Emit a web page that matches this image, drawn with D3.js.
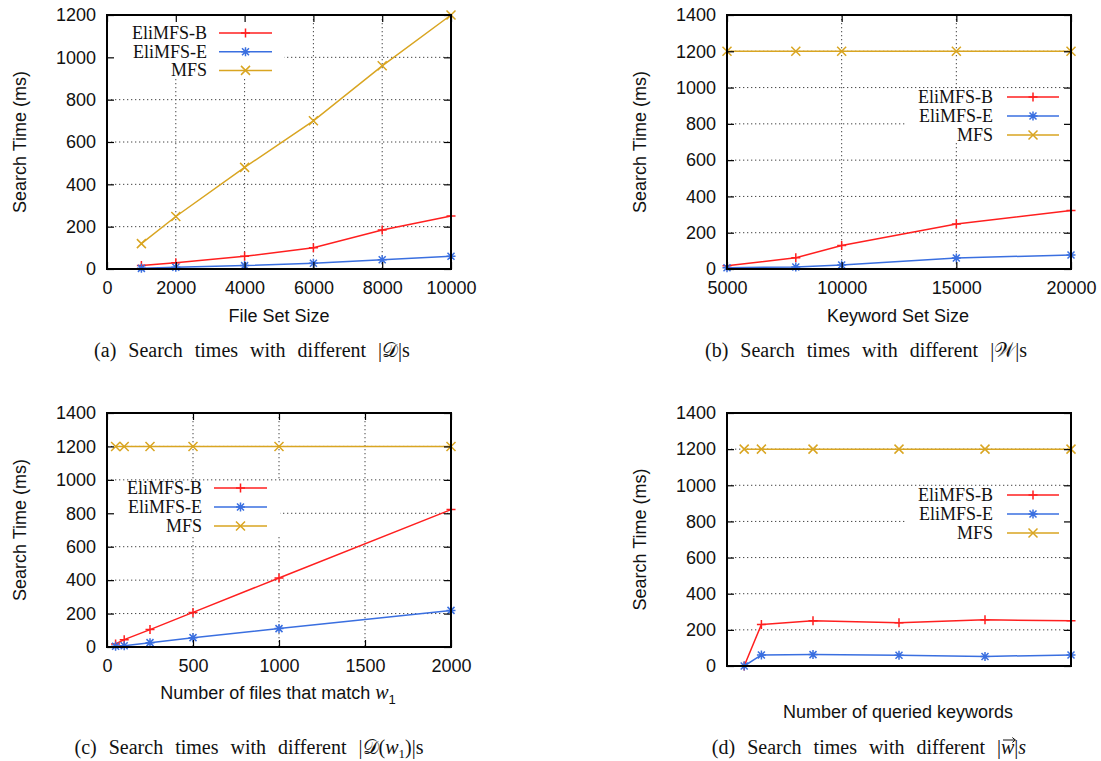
<!DOCTYPE html>
<html>
<head>
<meta charset="utf-8">
<script src="https://cdn.jsdelivr.net/npm/d3@7/dist/d3.min.js"></script>
<style>
  body { margin: 0; background: #fff; }
  svg { display: block; }
  .tick text { font-family: "Liberation Sans", Arial, sans-serif; font-size: 18px; fill: #111; }
</style>
</head>
<body>
<svg id="chart"></svg>
<script>
var screen = {width: 1101, height: 761};

// series names and colours, shared by all four panels
var seriesNames = ["EliMFS-B", "EliMFS-E", "MFS"];
var seriesColors = ["#ff1f1f", "#3a6fe0", "#d9a521"];

// (a) varying file set size
var fileSetSizes = [1000, 2000, 4000, 6000, 8000, 10000];
var aEliB = [16, 30, 60, 100, 184, 250];
var aEliE = [3, 8, 16, 27, 44, 60];
var aMFS = [120, 248, 480, 700, 960, 1200];

// (b) varying keyword set size
var keywordSetSizes = [5000, 8000, 10000, 15000, 20000];
var bEliB = [18, 62, 129, 248, 322];
var bEliE = [7, 11, 22, 61, 77];
var bMFS = [1200, 1200, 1200, 1200, 1200];

// (c) varying number of files that match w1
var matchingFiles = [50, 100, 250, 500, 1000, 2000];
var cEliB = [18, 44, 104, 207, 413, 822];
var cEliE = [4, 8, 26, 56, 110, 219];
var cMFS = [1200, 1200, 1200, 1200, 1200, 1200];

// (d) varying number of queried keywords (no tick labels in the original)
var queriedKeywords = [1, 2, 5, 10, 15, 20];
var dEliB = [0, 230, 250, 239, 256, 250];
var dEliE = [0, 61, 63, 59, 53, 61];
var dMFS = [1200, 1200, 1200, 1200, 1200, 1200];

// tick values
var aXTicks = [0, 2000, 4000, 6000, 8000, 10000];
var bXTicks = [5000, 10000, 15000, 20000];
var cXTicks = [0, 500, 1000, 1500, 2000];
var yTicks1200 = [0, 200, 400, 600, 800, 1000, 1200];
var yTicks1400 = [0, 200, 400, 600, 800, 1000, 1200, 1400];

var svg = d3.select("#chart")
    .attr("width", screen.width)
    .attr("height", screen.height);

var markers = {
    "EliMFS-B": "M-4.5,0H4.5M0,-4.5V4.5",
    "EliMFS-E": "M-4.5,0H4.5M0,-4.5V4.5M-3.5,-3.5L3.5,3.5M-3.5,3.5L3.5,-3.5",
    "MFS": "M-4.5,-4.5L4.5,4.5M-4.5,4.5L4.5,-4.5"
};

// writes text pieces as tspans, an arrow is drawn over pieces flagged with arrow
var writeParts = function(g, textSel, parts)
{
    var idx = 0;
    var arrows = [];
    parts.forEach(function(part)
    {
        var t = textSel.append("tspan").text(part.t);
        if (part.style) t.attr("style", part.style);
        if (part.dy) t.attr("dy", part.dy);
        if (part.arrow) arrows.push(idx);
        idx += part.t.length;
    });
    arrows.forEach(function(i)
    {
        var n = textSel.node();
        var s = n.getStartPositionOfChar(i);
        var e = n.getEndPositionOfChar(i);
        var x0 = s.x + 2, x1 = e.x + 1, yy = s.y - 14;
        g.append("path")
            .attr("d", "M" + x0 + "," + yy + "H" + x1 + "M" + (x1 - 3) + "," + (yy - 2.5) + "L" + x1 + "," + yy + "L" + (x1 - 3) + "," + (yy + 2.5))
            .attr("fill", "none")
            .attr("stroke", "#111")
            .attr("stroke-width", 1);
    });
}

var drawPanel = function(p)
{
    var g = svg.append("g");

    var xScale = d3.scaleLinear().domain(p.xDomain).range([p.left, p.right]);
    var yScale = d3.scaleLinear().domain([0, p.yTicks[p.yTicks.length - 1]]).range([p.bottom, p.top]);

    // dotted grid, inner lines only
    var grid = g.append("g")
        .attr("stroke", "#444")
        .attr("stroke-width", 1)
        .attr("stroke-dasharray", "1.3,2.7");

    grid.selectAll(".hg")
        .data(p.yTicks.slice(1, -1))
        .enter()
        .append("line")
        .attr("x1", p.left).attr("x2", p.right)
        .attr("y1", function(d) { return yScale(d); })
        .attr("y2", function(d) { return yScale(d); });

    if (p.xTicks) {
        grid.selectAll(".vg")
            .data(p.xTicks.filter(function(d) { return d > p.xDomain[0] && d < p.xDomain[1]; }))
            .enter()
            .append("line")
            .attr("y1", p.top).attr("y2", p.bottom)
            .attr("x1", function(d) { return xScale(d); })
            .attr("x2", function(d) { return xScale(d); });
    }

    // opaque legend box hides the grid behind it
    g.append("rect")
        .attr("x", p.legend.box[0]).attr("y", p.legend.box[1])
        .attr("width", p.legend.box[2]).attr("height", p.legend.box[3])
        .attr("fill", "#fff");

    // series
    p.series.forEach(function(vals, i)
    {
        var pts = p.xs.map(function(xv, j) { return [xScale(xv), yScale(vals[j])]; });
        g.append("path")
            .attr("d", d3.line()(pts))
            .attr("fill", "none")
            .attr("stroke", seriesColors[i])
            .attr("stroke-width", 1.5);
        g.selectAll(".m" + i)
            .data(pts)
            .enter()
            .append("path")
            .attr("transform", function(d) { return "translate(" + d[0] + "," + d[1] + ")"; })
            .attr("d", markers[seriesNames[i]])
            .attr("fill", "none")
            .attr("stroke", seriesColors[i])
            .attr("stroke-width", 1.5);
    });

    // border
    g.append("rect")
        .attr("x", p.left).attr("y", p.top)
        .attr("width", p.right - p.left).attr("height", p.bottom - p.top)
        .attr("fill", "none")
        .attr("stroke", "#000")
        .attr("stroke-width", 2);

    // axes with inward ticks, mirrored on the other side
    g.append("g")
        .attr("transform", "translate(" + p.left + ",0)")
        .call(d3.axisLeft(yScale).tickValues(p.yTicks).tickSize(-7).tickPadding(11).tickFormat(d3.format("d")));
    g.append("g")
        .attr("transform", "translate(" + p.right + ",0)")
        .call(d3.axisRight(yScale).tickValues(p.yTicks).tickSize(-7).tickFormat(""));

    if (p.xTicks) {
        g.append("g")
            .attr("transform", "translate(0," + p.bottom + ")")
            .call(d3.axisBottom(xScale).tickValues(p.xTicks).tickSize(-7).tickPadding(12).tickFormat(d3.format("d")));
        g.append("g")
            .attr("transform", "translate(0," + p.top + ")")
            .call(d3.axisTop(xScale).tickValues(p.xTicks).tickSize(-7).tickFormat(""));
    }
    g.selectAll(".domain").remove();
    g.selectAll(".tick line").attr("stroke", "#000").attr("stroke-width", 1.2);

    // axis titles
    g.append("text")
        .attr("transform", "translate(" + p.yLabelX + "," + ((p.top + p.bottom) / 2) + ") rotate(-90)")
        .attr("text-anchor", "middle")
        .attr("dy", "0.35em")
        .style("font-family", "'Liberation Sans', Arial, sans-serif")
        .style("font-size", "18px")
        .attr("fill", "#111")
        .text("Search Time (ms)");

    var xl = g.append("text")
        .attr("x", p.xLabel.x)
        .attr("y", p.xLabel.y)
        .attr("text-anchor", "middle")
        .style("font-family", "'Liberation Sans', Arial, sans-serif")
        .style("font-size", "18px")
        .attr("fill", "#111");
    writeParts(g, xl, p.xLabel.parts);

    // legend
    var lg = g.selectAll(".legend")
        .data(seriesNames)
        .enter()
        .append("g")
        .attr("transform", function(d, i) { return "translate(0," + (p.legend.y0 + i * p.legend.dy) + ")"; });
    lg.append("text")
        .attr("x", p.legend.textRight)
        .attr("dy", "0.33em")
        .attr("text-anchor", "end")
        .style("font-family", "'Liberation Serif', 'Times New Roman', serif")
        .style("font-size", "18px")
        .attr("fill", "#111")
        .text(function(d) { return d; });
    lg.append("line")
        .attr("x1", p.legend.line[0]).attr("x2", p.legend.line[1])
        .attr("stroke", function(d, i) { return seriesColors[i]; })
        .attr("stroke-width", 1.5);
    lg.append("path")
        .attr("transform", "translate(" + ((p.legend.line[0] + p.legend.line[1]) / 2) + ",0)")
        .attr("d", function(d) { return markers[d]; })
        .attr("fill", "none")
        .attr("stroke", function(d, i) { return seriesColors[i]; })
        .attr("stroke-width", 1.5);

    // caption
    var cap = g.append("text")
        .attr("x", p.caption.x)
        .attr("y", p.caption.y)
        .attr("text-anchor", "middle")
        .style("font-family", "'Liberation Serif', 'Times New Roman', serif")
        .style("font-size", "20px")
        .style("word-spacing", "7px")
        .attr("fill", "#111");
    writeParts(g, cap, p.caption.parts);
}

var ital = "font-style:italic";
var sub = "font-size:13px";

drawPanel({
    left: 107, right: 451, top: 15, bottom: 269,
    xDomain: [0, 10000], xTicks: aXTicks, yTicks: yTicks1200,
    xs: fileSetSizes, series: [aEliB, aEliE, aMFS],
    yLabelX: 20,
    xLabel: {x: 279, y: 322, parts: [{t: "File Set Size"}]},
    legend: {textRight: 207, line: [219, 272], y0: 33, dy: 18.7, box: [108, 16, 176, 62]},
    caption: {x: 252, y: 357, parts: [{t: "(a) Search times with different |"}, {t: "\uD835\uDC9F"}, {t: "|s"}]}
});

drawPanel({
    left: 727, right: 1071, top: 15, bottom: 269,
    xDomain: [5000, 20000], xTicks: bXTicks, yTicks: yTicks1400,
    xs: keywordSetSizes, series: [bEliB, bEliE, bMFS],
    yLabelX: 640,
    xLabel: {x: 898, y: 322, parts: [{t: "Keyword Set Size"}]},
    legend: {textRight: 993, line: [1007, 1059], y0: 97, dy: 19, box: [906, 89, 164, 54]},
    caption: {x: 866, y: 357, parts: [{t: "(b) Search times with different |"}, {t: "\uD835\uDCB2"}, {t: "|s"}]}
});

drawPanel({
    left: 107, right: 451, top: 413, bottom: 647,
    xDomain: [0, 2000], xTicks: cXTicks, yTicks: yTicks1400,
    xs: matchingFiles, series: [cEliB, cEliE, cMFS],
    yLabelX: 20,
    xLabel: {x: 278, y: 699, parts: [{t: "Number of files that match "},
        {t: "w", style: "font-family:'Liberation Serif',serif;font-style:italic;font-size:20px"},
        {t: "1", style: sub, dy: "5"}]},
    legend: {textRight: 202, line: [214, 267], y0: 488, dy: 19, box: [108, 481, 172, 55]},
    caption: {x: 249, y: 754, parts: [{t: "(c) Search times with different |"}, {t: "\uD835\uDC9F"}, {t: "("},
        {t: "w", style: ital}, {t: "1", style: sub, dy: "4"}, {t: ")|s", dy: "-4"}]}
});

drawPanel({
    left: 727, right: 1071, top: 413, bottom: 666,
    xDomain: [0, 20], xTicks: null, yTicks: yTicks1400,
    xs: queriedKeywords, series: [dEliB, dEliE, dMFS],
    yLabelX: 640,
    xLabel: {x: 898, y: 718, parts: [{t: "Number of queried keywords"}]},
    legend: {textRight: 993, line: [1007, 1059], y0: 495, dy: 19, box: [906, 487, 164, 54]},
    caption: {x: 869, y: 754, parts: [{t: "(d) Search times with different |"}, {t: "w", style: ital, arrow: true}, {t: "|"}, {t: "s", style: ital}]}
});
</script>
</body>
</html>
